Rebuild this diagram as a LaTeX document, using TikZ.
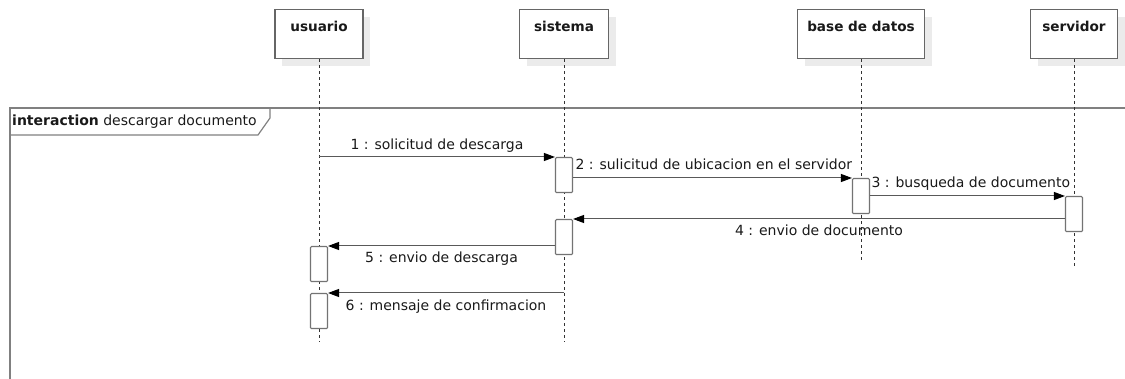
\documentclass[tikz,border=0pt]{standalone}
\usepackage{fontspec}
\setmainfont{DejaVu Sans}
\usetikzlibrary{positioning,arrows.meta,shadows}

\begin{document}
\begin{tikzpicture}[x=1pt,y=-1pt,
    font=\fontsize{14}{16}\selectfont,
    actor/.style={draw=black!60, line width=1.1pt, fill=white, anchor=north,
        minimum width=#1, minimum height=49pt, inner sep=0pt,
        general shadow={fill=black!8, shadow xshift=7pt, shadow yshift=-7pt}},
    actorname/.style={font=\fontsize{13.6}{15}\selectfont\bfseries, inner sep=0pt, text=black!90},
    lifeline/.style={draw=black!80, line width=0.8pt, dash pattern=on 3pt off 3pt},
    act/.style={draw=black!55, line width=1.1pt, fill=white, anchor=north,
        minimum width=17pt, minimum height=35pt, inner sep=0pt, rounded corners=1pt},
    msg/.style={draw=black!65, line width=1pt, -{Triangle[length=11pt,width=8pt,color=black]}},
    lbl/.style={inner sep=0pt, text=black!90},
    frame/.style={draw=black!50, line width=1.2pt}
]
    \useasboundingbox (0,0) rectangle (1125,379);

    % interaction frame
    \draw[frame] (10,379) -- (10,108) -- (1125,108);
    \draw[frame] (10,135) -- (258,135) -- (270,118) -- (270,108);
    \node[lbl, anchor=base west] (frame-title) at (12,126) {\textbf{interaction} descargar documento};

    % lifelines
    \node[actor=88pt] (usuario) at (319,9) {};
    \node[actor=89pt] (sistema) at (564,9) {};
    \node[actor=127pt] (basedatos) at (861,9) {};
    \node[actor=87pt] (servidor) at (1074,9) {};

    \node[actorname, below=12pt of usuario.north] (usuario-name) {usuario};
    \node[actorname, below=12pt of sistema.north] (sistema-name) {sistema};
    \node[actorname, below=12pt of basedatos.north] (basedatos-name) {base de datos};
    \node[actorname, below=12pt of servidor.north] (servidor-name) {servidor};

    \coordinate (usuario-end) at (319,342);
    \coordinate (sistema-end) at (564,342);
    \coordinate (basedatos-end) at (861,260);
    \coordinate (servidor-end) at (1074,268);

    \draw[lifeline] (usuario.south) -- (usuario-end);
    \draw[lifeline] (sistema.south) -- (sistema-end);
    \draw[lifeline] (basedatos.south) -- (basedatos-end);
    \draw[lifeline] (servidor.south) -- (servidor-end);

    % activations
    \node[act] (act1) at (sistema |- 0,157) {};
    \node[act] (act2) at (basedatos |- 0,178) {};
    \node[act] (act3) at (servidor |- 0,196) {};
    \node[act] (act4) at (sistema |- 0,219) {};
    \node[act] (act5) at (usuario |- 0,246) {};
    \node[act] (act6) at (usuario |- 0,293) {};

    % messages
    \draw[msg] (usuario |- act1.north) -- (act1.north west)
        node[lbl, midway, anchor=base, yshift=7pt] (m1) {1 : solicitud de descarga};
    \draw[msg] (act1.east |- act2.north) -- (act2.north west)
        node[lbl, pos=0, anchor=base west, xshift=2pt, yshift=8pt] (m2) {2 : sulicitud de ubicacion en el servidor};
    \draw[msg] (act2.east |- act3.north) -- (act3.north west)
        node[lbl, pos=0, anchor=base west, xshift=1pt, yshift=8pt] (m3) {3 : busqueda de documento};
    \draw[msg] (act3.west |- act4.north) -- (act4.north east)
        node[lbl, midway, anchor=base, yshift=-17pt] (m4) {4 : envio de documento};
    \draw[msg] (act4.west |- act5.north) -- (act5.north east)
        node[lbl, midway, anchor=base, yshift=-17pt] (m5) {5 : envio de descarga};
    \draw[msg] (sistema |- act6.north) -- (act6.north east)
        node[lbl, midway, anchor=base, yshift=-18pt] (m6) {6 : mensaje de confirmacion};
\end{tikzpicture}
\end{document}
